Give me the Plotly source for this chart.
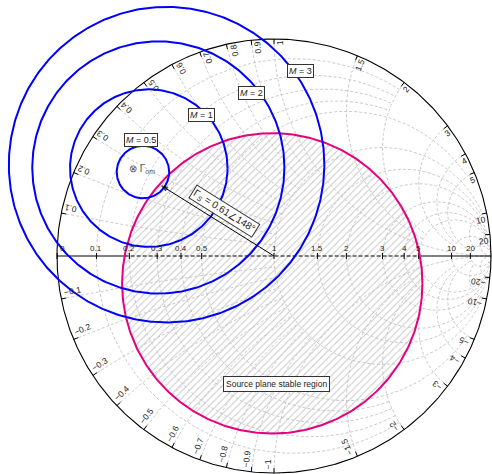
import numpy as np
import plotly.graph_objects as go

# ---- chart values ----------------------------------------------------------
# resistance values marked on the real axis
real_ticks = [0, 0.1, 0.2, 0.3, 0.4, 0.5, 1, 1.5, 2, 3, 4, 5, 10, 20]
real_labels = ["0", "0.1", "0.2", "0.3", "0.4", "0.5", "1", "1.5", "2", "3", "4", "5", "10", "20"]

# reactance values marked around the rim (used with both signs)
imag_ticks = [0.1, 0.2, 0.3, 0.4, 0.5, 0.6, 0.7, 0.8, 0.9, 1, 1.5, 2, 3, 4, 5, 10, 20]
imag_labels = ["0.1", "0.2", "0.3", "0.4", "0.5", "0.6", "0.7", "0.8", "0.9", "1",
               "1.5", "2", "3", "4", "5", "10", "20"]

# grid circles of constant resistance and how far (|x|) each one runs
grid_r = [0.1, 0.2, 0.3, 0.4, 0.5, 1, 1.5, 2, 3, 4, 5, 10, 20]
grid_r_stop = [2, 2, 2, 2, 5, 10, 10, 20, 20, 20, np.inf, np.inf, np.inf]
# grid arcs of constant reactance and how far (r) each one runs
grid_x = [0.1, 0.2, 0.3, 0.4, 0.5, 0.6, 0.7, 0.8, 0.9, 1, 1.5, 2, 3, 4, 5, 10, 20]
grid_x_stop = [1, 1, 1, 1, 1, 1, 1, 1, 1, np.inf, 5, 5, 10, 10, 20, 20, np.inf]

# constant-mismatch circles (reflection-coefficient plane)
m_values = ["0.5", "1", "2", "3"]
m_center_re = [-0.604, -0.577, -0.533, -0.495]
m_center_im = [0.387, 0.405, 0.408, 0.421]
m_radius = [0.121, 0.363, 0.581, 0.727]

# source-plane stability circle (stable region inside)
stab_center = (-0.008, -0.126)
stab_radius = 0.692

# chosen source reflection coefficient
gamma_s_mag = 0.61
gamma_s_deg = 148.0
gamma_om = (-0.610, 0.401)

# ---- style ---------------------------------------------------------------------
PX = 217.0            # pixels per unit of |Gamma|
FONT = "Liberation Sans, Arial, sans-serif"
GRID = "#c4c4c4"
BLUE = "#0000ff"
MAGENTA = "#e5007e"


def gamma(z):
    return (z - 1) / (z + 1)


def circle_pts(cx, cy, r, n=400):
    t = np.linspace(0, 2 * np.pi, n)
    return cx + r * np.cos(t), cy + r * np.sin(t)


fig = go.Figure()

# ---- hatched stable region ----------------------------------------------------
sx, sy = circle_pts(stab_center[0], stab_center[1], stab_radius)
fig.add_trace(go.Scatter(x=sx, y=sy, mode="lines", fill="toself",
                         fillcolor="white",
                         fillpattern=dict(shape="/", fgcolor="#c6c6c6",
                                          bgcolor="white", fgopacity=1,
                                          size=5, solidity=0.18),
                         line=dict(width=0), hoverinfo="skip"))

# ---- grid ------------------------------------------------------------------------
gx, gy = [], []
for r, xs in zip(grid_r, grid_r_stop):
    tmax = np.pi / 2 - 1e-4 if np.isinf(xs) else np.arctan(xs / (r + 1))
    t = np.linspace(-tmax, tmax, 300)
    g = r / (r + 1) - np.exp(-2j * t) / (r + 1)
    gx += list(g.real) + [None]
    gy += list(g.imag) + [None]
for x, rs in zip(grid_x, grid_x_stop):
    smin = 1e-4 if np.isinf(rs) else np.arctan(x / (rs + 1))
    s = np.linspace(np.arctan(x), smin, 300)
    for sign in (1, -1):
        z = x / np.tan(s) - 1 + 1j * sign * x
        g = gamma(z)
        gx += list(g.real) + [None]
        gy += list(g.imag) + [None]
fig.add_trace(go.Scatter(x=gx, y=gy, mode="lines", hoverinfo="skip",
                         line=dict(color=GRID, width=0.9, dash="3px,2px")))

# ---- outer rim -----------------------------------------------------------------
bx, by = circle_pts(0, 0, 1, 600)
fig.add_trace(go.Scatter(x=bx, y=by, mode="lines", hoverinfo="skip",
                         line=dict(color="black", width=1.1)))

# real axis: solid outside the stable region, dashed inside it
h = np.sqrt(stab_radius ** 2 - stab_center[1] ** 2)
xl, xr = stab_center[0] - h, stab_center[0] + h
fig.add_trace(go.Scatter(x=[-1, xl, None, xr, 1], y=[0, 0, None, 0, 0], mode="lines",
                         hoverinfo="skip", line=dict(color="black", width=1.1)))
fig.add_trace(go.Scatter(x=[xl, xr], y=[0, 0], mode="lines", hoverinfo="skip",
                         line=dict(color="black", width=1.1, dash="4px,2px")))

# ticks on the real axis
tx, ty = [], []
for r in real_ticks:
    p = gamma(r)
    tx += [p, p, None]
    ty += [-3 / PX, 3 / PX, None]
# ticks on the rim
for x in imag_ticks:
    for sign in (1, -1):
        p = gamma(1j * sign * x)
        tx += [p.real, p.real * (1 - 5 / PX), None]
        ty += [p.imag, p.imag * (1 - 5 / PX), None]
fig.add_trace(go.Scatter(x=tx, y=ty, mode="lines", hoverinfo="skip",
                         line=dict(color="black", width=1)))

# ---- stability and mismatch circles ------------------------------------------
fig.add_trace(go.Scatter(x=sx, y=sy, mode="lines", hoverinfo="skip",
                         line=dict(color=MAGENTA, width=2)))
for cx, cy, rr in zip(m_center_re, m_center_im, m_radius):
    mx, my = circle_pts(cx, cy, rr)
    fig.add_trace(go.Scatter(x=mx, y=my, mode="lines", hoverinfo="skip",
                             line=dict(color=BLUE, width=2)))

# ---- Gamma_S vector --------------------------------------------------------------
gs = gamma_s_mag * np.exp(1j * np.deg2rad(gamma_s_deg))
fig.add_trace(go.Scatter(x=[0, gs.real], y=[0, gs.imag], mode="lines+markers",
                         hoverinfo="skip", line=dict(color="black", width=1),
                         marker=dict(symbol=["circle-open", "arrow"], size=[7, 6],
                                     angleref="previous", color="black",
                                     line=dict(color="black", width=1.2))))

# ---- text ------------------------------------------------------------------------
ann = []


def label_len(s, fs):
    w = 0.0
    for c in s:
        w += 0.28 if c == "." else (0.58 if c == "\u2212" else 0.556)
    return w * fs


# resistance labels above the real axis
for r, lab in zip(real_ticks, real_labels):
    p = gamma(r)
    shift = 5.5 / PX if r == 0 else 0
    ann.append(dict(x=p + shift, y=8 / PX, text=lab, showarrow=False,
                    font=dict(size=8, color="#222", family=FONT)))

# reactance labels along the rim, turned to follow the reactance arcs
FS = 8.5
for x, lab in zip(imag_ticks, imag_labels):
    for sign in (1, -1):
        p = gamma(1j * sign * x)
        phi = np.angle(p)
        text = lab if sign > 0 else "\u2212" + lab
        L = label_len(text, FS)
        outer = 215 if sign > 0 else 213
        rc = (outer - L / 2) / PX
        cxy = rc * np.exp(1j * phi)
        tang = np.exp(1j * (phi - np.pi / 2)) * 6 / PX  # clockwise offset
        c = cxy + tang
        alpha = np.degrees(phi) if sign > 0 else np.degrees(phi) + 180
        ann.append(dict(x=c.real, y=c.imag, text=text, showarrow=False,
                        textangle=-alpha, xanchor="center", yanchor="middle",
                        font=dict(size=FS, color="#222", family=FONT)))

# mismatch circle tags
m_tag_pos = [(-0.615, 0.534), (-0.335, 0.651), (-0.103, 0.752), (0.120, 0.853)]
for m, (px_, py_) in zip(m_values, m_tag_pos):
    ann.append(dict(x=px_, y=py_, text="<i>M</i> = " + m, showarrow=False,
                    bgcolor="white", bordercolor="#333", borderwidth=1, borderpad=1,
                    font=dict(size=9, color="#222", family=FONT)))

ann.append(dict(x=gamma_om[0], y=gamma_om[1],
                text="\u2297 \u0393<sub><i>om</i></sub>", showarrow=False,
                font=dict(size=10, color="#555", family=FONT)))

# Gamma_S tag, laid along the vector
mid = 0.5 * gs
off = 12 / PX * np.exp(1j * np.deg2rad(gamma_s_deg - 90))
tagp = mid + off
ann.append(dict(x=tagp.real, y=tagp.imag,
                text="\u0393<sub><i>S</i></sub> = 0.61\u2220148\u00b0",
                showarrow=False, textangle=180 - gamma_s_deg,
                bgcolor="white", bordercolor="#333", borderwidth=1, borderpad=1,
                font=dict(size=10, color="#222", family=FONT)))

ann.append(dict(x=0.012, y=-0.59, text="Source plane stable region", showarrow=False,
                bgcolor="white", bordercolor="#333", borderwidth=1, borderpad=2,
                font=dict(size=8.5, color="#222", family=FONT)))

W, H = 492, 474
cx0, cy0 = 274, 256
fig.update_layout(
    width=W, height=H, margin=dict(l=0, r=0, t=0, b=0),
    paper_bgcolor="white", plot_bgcolor="white", showlegend=False,
    annotations=ann,
    xaxis=dict(range=[-cx0 / PX, (W - cx0) / PX], visible=False, fixedrange=True),
    yaxis=dict(range=[-(H - cy0) / PX, cy0 / PX], visible=False, fixedrange=True),
)
fig.write_html("out.html")
